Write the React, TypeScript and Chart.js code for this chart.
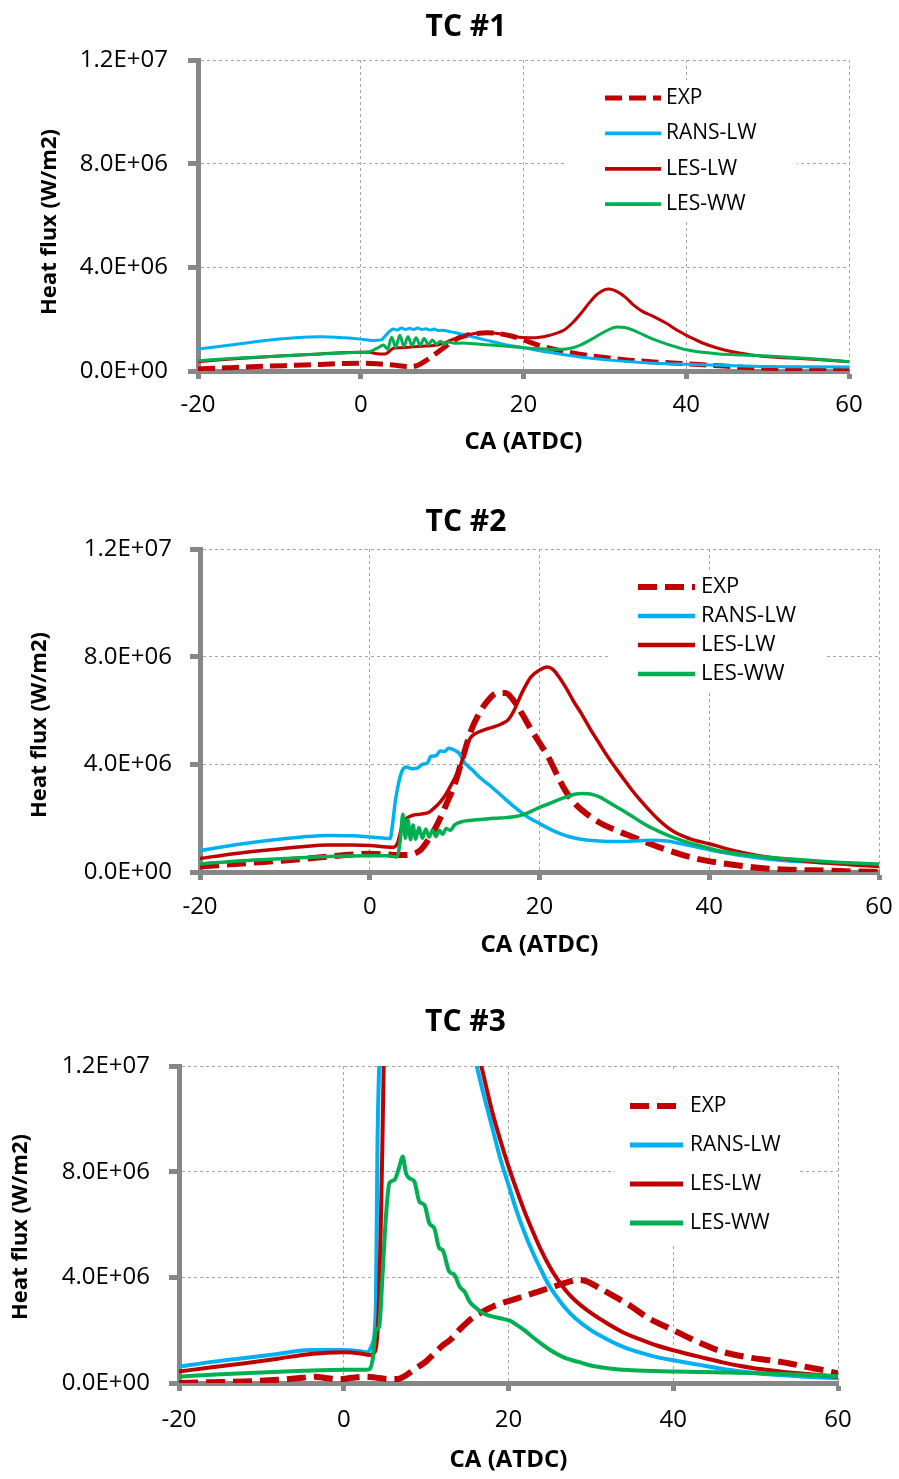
import { useEffect, useRef } from 'react';
import { Chart, registerables } from 'chart.js';

Chart.register(...registerables);

const FAMILY = '"Open Sans", "DejaVu Sans", sans-serif';
const RED = '#C00000';
const BLUE = '#00B0F0';
const GREEN = '#00B050';
const GRID = '#A6A6A6';
const AXIS = '#878787';

Chart.defaults.font.family = FAMILY;
Chart.defaults.color = '#000';

// Shared labels and axis ticks
const SERIES_NAMES = ['EXP', 'RANS-LW', 'LES-LW', 'LES-WW'];
const CA_TICKS = [-20, 0, 20, 40, 60];
const FLUX_TICKS = [0, 4e6, 8e6, 1.2e7];
const X_TITLE = 'CA (ATDC)';
const Y_TITLE = 'Heat flux (W/m2)';

// ---- TC #1 (crank angle in deg ATDC, heat flux in MW/m2) ----
const tc1ExpCA = [-20, -16, -12, -8, -5, -2, 0, 2, 4, 6, 7, 8, 9, 10, 11, 12, 13, 14, 15.5, 17, 18.5, 20, 22, 24, 26, 28, 30, 33, 36, 40, 44, 48, 52, 56, 60];
const tc1ExpQ = [0.08, 0.13, 0.18, 0.22, 0.25, 0.29, 0.3, 0.28, 0.23, 0.17, 0.22, 0.4, 0.62, 0.85, 1.08, 1.27, 1.38, 1.44, 1.48, 1.44, 1.35, 1.2, 0.98, 0.82, 0.7, 0.6, 0.52, 0.42, 0.35, 0.28, 0.2, 0.13, 0.09, 0.06, 0.04];

const tc1RansCA = [-20, -16, -12, -8, -5, -2, 0, 1.5, 2.5, 3, 3.5, 4, 4.5, 5, 5.5, 6, 6.5, 7, 7.5, 8, 8.5, 9, 9.5, 10, 11, 12, 13, 14, 15, 16, 18, 20, 22, 25, 28, 31, 34, 37, 40, 45, 50, 55, 60];
const tc1RansQ = [0.85, 1.0, 1.17, 1.28, 1.32, 1.28, 1.23, 1.18, 1.2, 1.35, 1.52, 1.62, 1.58, 1.66, 1.6, 1.65, 1.6, 1.66, 1.6, 1.63, 1.58, 1.62, 1.56, 1.57, 1.52, 1.45, 1.38, 1.3, 1.22, 1.15, 1.0, 0.9, 0.78, 0.63, 0.5, 0.41, 0.34, 0.29, 0.26, 0.21, 0.17, 0.16, 0.15];

const tc1LesLwCA = [-20, -15, -10, -5, 0, 1, 2, 3, 3.5, 4, 5, 6, 7, 8, 9, 10, 11, 12, 13, 14, 15, 16, 17, 18, 19, 20, 21, 22, 23, 24, 25, 26, 27, 28, 29, 30, 30.5, 31.5, 32.5, 33.5, 34.5, 36, 37.5, 39, 40.5, 42, 44, 46, 48, 51, 54, 57, 60];
const tc1LesLwQ = [0.36, 0.48, 0.58, 0.66, 0.72, 0.72, 0.67, 0.66, 0.75, 0.88, 0.9, 0.92, 0.95, 0.96, 0.98, 1.05, 1.18, 1.3, 1.38, 1.45, 1.48, 1.47, 1.44, 1.38, 1.32, 1.29, 1.28, 1.3, 1.36, 1.45, 1.58, 1.85, 2.2, 2.6, 2.95, 3.14, 3.16, 3.06, 2.85, 2.55, 2.32, 2.1, 1.85, 1.55, 1.3, 1.08, 0.87, 0.72, 0.62, 0.53, 0.48, 0.42, 0.36];

const tc1LesWwCA = [-20, -15, -10, -5, 0, 1, 2, 2.8, 3.3, 3.8, 4.3, 4.8, 5.3, 5.8, 6.3, 6.8, 7.3, 7.8, 8.3, 8.8, 9.3, 9.8, 10.3, 10.8, 11.5, 12.5, 14, 16, 18, 20, 22, 24, 25.5, 27, 28.5, 30, 31.5, 32.5, 34, 36, 38, 40, 42, 44, 47, 50, 55, 60];
const tc1LesWwQ = [0.4, 0.5, 0.58, 0.66, 0.72, 0.74, 0.88, 1.0, 0.85, 1.3, 0.92, 1.38, 0.95, 1.32, 0.98, 1.28, 1.0, 1.25, 1.02, 1.2, 1.03, 1.15, 1.04, 1.12, 1.07, 1.08, 1.05, 1.0, 0.95, 0.9, 0.86, 0.84, 0.86, 1.0, 1.25, 1.52, 1.7, 1.68, 1.5, 1.22, 1.0, 0.82, 0.72, 0.66, 0.62, 0.58, 0.48, 0.36];

// ---- TC #2 ----
const tc2ExpCA = [-20, -15, -10, -5, -2, 0, 2, 4, 5, 6, 7, 8, 9, 10, 11, 12, 13, 14, 15, 16, 17, 18, 19, 20, 21, 22, 23, 24, 25, 27, 29, 31, 33, 35, 37, 39, 41, 44, 47, 50, 54, 57, 60];
const tc2ExpQ = [0.2, 0.32, 0.43, 0.57, 0.65, 0.68, 0.65, 0.63, 0.66, 0.82, 1.25, 1.8, 2.5, 3.25, 4.3, 5.3, 5.95, 6.4, 6.65, 6.65, 6.35, 5.85, 5.3, 4.8, 4.3, 3.65, 3.05, 2.6, 2.3, 1.85, 1.55, 1.3, 1.05, 0.82, 0.62, 0.46, 0.35, 0.22, 0.12, 0.08, 0.05, 0.02, 0.0];

const tc2RansCA = [-20, -16, -12, -8, -5, -2, 0, 1.5, 2.4, 2.7, 3.0, 3.4, 3.8, 4.3, 5, 5.6, 6.2, 6.8, 7.2, 7.8, 8.3, 8.8, 9.3, 9.8, 10.5, 11.2, 12, 13, 14, 15, 16, 17, 18, 19, 20, 21, 22, 23, 24, 25.5, 27, 29, 31, 33, 35, 37, 40, 44, 47, 50, 54, 57, 60];
const tc2RansQ = [0.79, 1.0, 1.17, 1.3, 1.36, 1.35, 1.3, 1.26, 1.24, 1.8, 2.6, 3.3, 3.75, 3.9, 3.84, 3.86, 4.0, 4.05, 4.3, 4.32, 4.5, 4.48, 4.6, 4.55, 4.42, 4.05, 3.82, 3.5, 3.25, 2.98, 2.7, 2.43, 2.18, 1.97, 1.8, 1.63, 1.48, 1.36, 1.27, 1.19, 1.15, 1.13, 1.15, 1.18, 1.15, 1.03, 0.83, 0.6, 0.47, 0.4, 0.33, 0.29, 0.26];

const tc2LesLwCA = [-20, -16, -12, -8, -5, -2, 0, 2, 2.8, 3.3, 3.8, 4.3, 5, 6, 7, 7.5, 8.3, 9, 9.7, 10.5, 11.2, 11.8, 12.5, 13.5, 14.5, 15.5, 16.3, 17, 18, 19, 20, 20.9, 21.6, 22.4, 23.2, 24, 25, 26, 27, 28, 29, 30, 31, 32, 33, 34, 35, 36, 37, 38, 40, 42, 44, 47, 50, 54, 57, 60];
const tc2LesLwQ = [0.5, 0.68, 0.82, 0.94, 1.0, 1.0, 0.98, 0.93, 0.92, 1.1, 1.7, 1.98, 2.1, 2.15, 2.22, 2.35, 2.6, 2.9, 3.3, 3.8, 4.45, 4.95, 5.15, 5.28, 5.38, 5.5, 5.65, 6.0, 6.7, 7.25, 7.5, 7.62, 7.52, 7.2, 6.8, 6.35, 5.85, 5.3, 4.8, 4.3, 3.85, 3.42, 3.0, 2.62, 2.27, 1.95, 1.68, 1.47, 1.32, 1.2, 1.05, 0.87, 0.72, 0.55, 0.45, 0.33, 0.26, 0.2];

const tc2LesWwCA = [-20, -15, -10, -5, 0, 2, 3.2, 3.6, 3.9, 4.2, 4.5, 4.8, 5.1, 5.4, 5.8, 6.2, 6.6, 7.0, 7.4, 7.8, 8.2, 8.6, 9, 9.5, 10, 11, 12, 13, 14, 15, 16, 17, 18, 19, 20, 21, 22, 23, 24, 25, 26, 27, 28, 29, 30, 31, 32, 33, 34, 35, 36, 37, 39, 41, 44, 47, 50, 54, 57, 60];
const tc2LesWwQ = [0.3, 0.42, 0.5, 0.58, 0.6, 0.6, 0.56, 1.2, 2.15, 1.25, 1.95, 1.2, 1.75, 1.22, 1.65, 1.25, 1.6, 1.3, 1.55, 1.32, 1.55, 1.4, 1.62, 1.55, 1.75, 1.88, 1.92, 1.95, 1.98, 2.0, 2.02, 2.05, 2.12, 2.25, 2.4, 2.52, 2.65, 2.77, 2.88, 2.92, 2.9, 2.8, 2.62, 2.43, 2.25, 2.05, 1.85, 1.67, 1.52, 1.38, 1.26, 1.15, 0.97, 0.8, 0.65, 0.55, 0.47, 0.38, 0.33, 0.3];

// ---- TC #3 (RANS-LW and LES-LW peak above the 1.2E+07 axis limit) ----
const tc3ExpCA = [-20, -16, -12, -8, -5, -3.5, -2, -0.5, 1, 2.5, 4, 5.5, 6.5, 7.5, 8.5, 10, 11, 12, 13, 14, 15, 16, 17, 18, 19, 20, 22, 24, 26, 27.5, 28.5, 29.5, 31, 33, 35, 37, 39, 41, 43, 46, 49.5, 52, 54, 56, 58, 60];
const tc3ExpQ = [0.0, 0.03, 0.06, 0.12, 0.2, 0.24, 0.18, 0.14, 0.2, 0.24, 0.2, 0.15, 0.15, 0.28, 0.5, 0.82, 1.12, 1.42, 1.65, 2.0, 2.3, 2.55, 2.72, 2.88, 3.0, 3.1, 3.3, 3.5, 3.7, 3.85, 3.9, 3.85, 3.6, 3.25, 2.88, 2.45, 2.15, 1.85, 1.55, 1.18, 0.95, 0.85, 0.75, 0.62, 0.5, 0.37];

const tc3RansCA = [-20, -16, -12, -8, -4, 0, 2, 2.8, 3.5, 3.9, 4.1, 4.3, 4.6, 5.5, 6.5, 8, 10, 12, 14, 16, 17, 18, 19, 20, 21, 22, 23, 24, 25, 26, 27, 28, 30, 32, 34, 36, 38, 40, 42, 44, 46, 48, 50, 53, 56, 60];
const tc3RansQ = [0.62, 0.8, 0.95, 1.1, 1.25, 1.25, 1.2, 1.16, 1.5, 2.9, 9.2, 12.0, 14.5, 18.0, 20.5, 22.0, 21.0, 18.5, 15.3, 12.2, 10.9, 9.7, 8.5, 7.5, 6.5, 5.65, 4.9, 4.25, 3.65, 3.2, 2.8, 2.48, 2.0, 1.65, 1.36, 1.15, 0.98, 0.86, 0.75, 0.64, 0.53, 0.45, 0.37, 0.3, 0.24, 0.18];

const tc3LesLwCA = [-20, -16, -12, -8, -4, 0, 2, 3.1, 3.8, 4.2, 4.5, 4.7, 4.85, 5.2, 6, 8, 10, 12, 14, 16, 17, 18, 19, 20, 21, 22, 23, 24, 25, 26, 27, 28, 30, 32, 34, 36, 38, 40, 42, 44, 46, 48, 50, 53, 56, 60];
const tc3LesLwQ = [0.43, 0.6, 0.75, 0.92, 1.1, 1.16, 1.12, 1.06, 1.2, 2.5, 6.0, 9.2, 12.0, 14.5, 18.0, 22.5, 22.5, 20.0, 16.5, 13.0, 11.6, 10.3, 9.2, 8.2, 7.3, 6.45, 5.7, 5.0, 4.4, 3.9, 3.48, 3.15, 2.65, 2.25, 1.9, 1.65, 1.42, 1.24, 1.08, 0.93, 0.78, 0.65, 0.55, 0.44, 0.35, 0.24];

const tc3LesWwCA = [-20, -15, -10, -5, 0, 2.7, 3.1, 3.5, 3.9, 4.3, 4.72, 5.1, 5.53, 6.14, 6.75, 7.15, 7.56, 7.97, 8.58, 9.19, 9.8, 10.4, 11.0, 11.6, 12.0, 12.8, 13.45, 14.06, 14.67, 15.28, 16.1, 16.9, 18, 19, 20.2, 21, 22, 23, 24, 25, 26, 27, 28.5, 30, 32, 35, 40, 45, 50, 55, 60];
const tc3LesWwQ = [0.24, 0.33, 0.4, 0.46, 0.5, 0.5, 0.52, 0.87, 2.0, 2.13, 4.15, 6.2, 7.56, 7.68, 8.19, 8.57, 7.94, 7.75, 7.62, 6.86, 6.74, 6.04, 5.85, 5.1, 5.03, 4.22, 4.09, 3.65, 3.46, 3.08, 2.83, 2.64, 2.52, 2.45, 2.35, 2.2, 1.98, 1.72, 1.48, 1.26, 1.08, 0.93, 0.8, 0.66, 0.56, 0.48, 0.44, 0.41, 0.38, 0.32, 0.26];

const SERIES_COLORS = [RED, BLUE, RED, GREEN];

// "1.2E+07" style labels
const sci = (v: number) => {
  const [m, e] = v.toExponential(1).split('e');
  const n = parseInt(e, 10);
  return `${m}E${n < 0 ? '-' : '+'}${String(Math.abs(n)).padStart(2, '0')}`;
};

// Legend drawn inside the plot area on a white panel
const insetLegend = {
  id: 'insetLegend',
  beforeDatasetsDraw(chart: any, _args: any, o: any) {
    const { ctx } = chart;
    ctx.save();
    ctx.fillStyle = '#ffffff';
    ctx.fillRect(o.box[0], o.box[1], o.box[2], o.box[3]);
    ctx.font = `${o.fontSize}px ${FAMILY}`;
    ctx.textAlign = 'left';
    ctx.textBaseline = 'middle';
    chart.data.datasets.forEach((ds: any, i: number) => {
      const y = o.rowY + i * o.rowGap;
      ctx.beginPath();
      ctx.setLineDash(ds.borderDash || []);
      ctx.lineWidth = ds.borderDash ? ds.borderWidth : ds.borderWidth + 0.8;
      ctx.strokeStyle = ds.borderColor;
      ctx.moveTo(o.lineX1, y);
      ctx.lineTo(o.lineX2, y);
      ctx.stroke();
      ctx.setLineDash([]);
      ctx.fillStyle = '#000';
      ctx.fillText(ds.label, o.textX, y);
    });
    ctx.restore();
  },
};

// Panel heading and rotated y-axis caption
const captions = {
  id: 'captions',
  afterDraw(chart: any, _args: any, o: any) {
    const { ctx } = chart;
    for (const c of o.items) {
      ctx.save();
      ctx.translate(c.x, c.y);
      if (c.rotate) ctx.rotate(-Math.PI / 2);
      ctx.font = `bold ${c.size}px ${FAMILY}`;
      ctx.fillStyle = '#000';
      ctx.textAlign = 'center';
      ctx.textBaseline = 'middle';
      ctx.fillText(c.text, 0, 0);
      ctx.restore();
    }
  },
};

type PanelSpec = {
  title: string;
  top: number;
  height: number;
  pad: { left: number; right: number; top: number; bottom: number };
  titleAt: [number, number];
  yWidth: number;
  xHeight: number;
  xTickPad: number;
  yTickPad: number;
  yCaptionAt: [number, number];
  legend: { box: number[]; lineX1: number; lineX2: number; textX: number; rowY: number; rowGap: number; fontSize: number };
  lineWidth: number;
  expWidth: number;
  expDash: number[];
  series: [number[], number[]][];
};

const TICK_SIZE = 24;

const PANELS: PanelSpec[] = [
  {
    title: 'TC #1',
    top: 0,
    height: 470,
    pad: { left: 0, right: 50, top: 60, bottom: 13.1 },
    titleAt: [466, 27],
    yWidth: 198,
    xHeight: 85.9,
    xTickPad: 12.1,
    yTickPad: 20,
    yCaptionAt: [50, 222],
    legend: { box: [567, 80, 230, 142], lineX1: 605, lineX2: 661, textX: 666, rowY: 98, rowGap: 35.4, fontSize: 21 },
    lineWidth: 3,
    expWidth: 5,
    expDash: [17, 7],
    series: [[tc1ExpCA, tc1ExpQ], [tc1RansCA, tc1RansQ], [tc1LesLwCA, tc1LesLwQ], [tc1LesWwCA, tc1LesWwQ]],
  },
  {
    title: 'TC #2',
    top: 470,
    height: 505,
    pad: { left: 0, right: 20, top: 79, bottom: 15.6 },
    titleAt: [466, 52],
    yWidth: 200,
    xHeight: 87.4,
    xTickPad: 12.6,
    yTickPad: 18,
    yCaptionAt: [40, 255],
    legend: { box: [610, 100, 217, 120], lineX1: 638, lineX2: 695, textX: 701, rowY: 117, rowGap: 29, fontSize: 22 },
    lineWidth: 3.5,
    expWidth: 6,
    expDash: [19, 8],
    series: [[tc2ExpCA, tc2ExpQ], [tc2RansCA, tc2RansQ], [tc2LesLwCA, tc2LesLwQ], [tc2LesWwCA, tc2LesWwQ]],
  },
  {
    title: 'TC #3',
    top: 975,
    height: 504,
    pad: { left: 0, right: 61, top: 91, bottom: 4.6 },
    titleAt: [465.5, 47.5],
    yWidth: 179,
    xHeight: 91.4,
    xTickPad: 14.6,
    yTickPad: 19,
    yCaptionAt: [21, 252],
    legend: { box: [615, 95, 182, 173], lineX1: 630, lineX2: 683, textX: 690, rowY: 131, rowGap: 39, fontSize: 21 },
    lineWidth: 4,
    expWidth: 6,
    expDash: [19, 8],
    series: [[tc3ExpCA, tc3ExpQ], [tc3RansCA, tc3RansQ], [tc3LesLwCA, tc3LesLwQ], [tc3LesWwCA, tc3LesWwQ]],
  },
];

function buildConfig(p: PanelSpec): any {
  const datasets = p.series.map(([ca, q], i) => {
    const isExp = i === 0;
    return {
      label: SERIES_NAMES[i],
      data: ca.map((x, k) => ({ x, y: q[k] * 1e6 })),
      borderColor: SERIES_COLORS[i],
      backgroundColor: SERIES_COLORS[i],
      borderWidth: isExp ? p.expWidth : p.lineWidth,
      borderDash: isExp ? p.expDash : undefined,
      pointRadius: 0,
      fill: false,
      cubicInterpolationMode: 'monotone',
      order: SERIES_NAMES.length - i,
    };
  });

  return {
    type: 'line',
    data: { datasets },
    plugins: [insetLegend, captions],
    options: {
      responsive: false,
      animation: false,
      events: [],
      layout: { padding: p.pad },
      plugins: {
        legend: { display: false },
        tooltip: { enabled: false },
        title: { display: false },
        insetLegend: p.legend,
        captions: {
          items: [
            { text: p.title, x: p.titleAt[0], y: p.titleAt[1], size: 30, rotate: false },
            { text: Y_TITLE, x: p.yCaptionAt[0], y: p.yCaptionAt[1], size: 22, rotate: true },
          ],
        },
      },
      scales: {
        x: {
          type: 'linear',
          min: CA_TICKS[0],
          max: CA_TICKS[CA_TICKS.length - 1],
          afterBuildTicks: (s: any) => {
            s.ticks = CA_TICKS.map((value) => ({ value }));
          },
          afterFit: (s: any) => {
            s.height = p.xHeight;
            s.paddingLeft = 0;
            s.paddingRight = 0;
          },
          ticks: {
            color: '#000',
            font: { size: TICK_SIZE },
            padding: p.xTickPad,
            maxRotation: 0,
            callback: (v: number) => String(v),
          },
          grid: {
            color: GRID,
            lineWidth: 1,
            drawTicks: true,
            tickLength: 8,
            tickColor: AXIS,
            tickWidth: 5,
            tickBorderDash: [],
          },
          border: { display: true, color: AXIS, width: 5, dash: [3, 3] },
          title: {
            display: true,
            text: X_TITLE,
            color: '#000',
            font: { size: 24, weight: 'bold' },
            padding: { top: 0, bottom: 0 },
          },
        },
        y: {
          type: 'linear',
          min: FLUX_TICKS[0],
          max: FLUX_TICKS[FLUX_TICKS.length - 1],
          afterBuildTicks: (s: any) => {
            s.ticks = FLUX_TICKS.map((value) => ({ value }));
          },
          afterFit: (s: any) => {
            s.width = p.yWidth;
            s.paddingTop = 0;
            s.paddingBottom = 0;
          },
          ticks: {
            color: '#000',
            font: { size: TICK_SIZE },
            padding: p.yTickPad,
            callback: (v: number) => sci(v),
          },
          grid: {
            color: GRID,
            lineWidth: 1,
            drawTicks: true,
            tickLength: 10,
            tickColor: AXIS,
            tickWidth: 5,
            tickBorderDash: [],
          },
          border: { display: true, color: AXIS, width: 5, dash: [3, 3] },
          title: { display: false },
        },
      },
    },
  };
}

function Panel({ spec }: { spec: PanelSpec }) {
  const ref = useRef<HTMLCanvasElement>(null);
  useEffect(() => {
    if (!ref.current) return;
    const chart = new Chart(ref.current, buildConfig(spec));
    return () => chart.destroy();
  }, [spec]);
  return (
    <canvas
      ref={ref}
      width={899}
      height={spec.height}
      style={{ position: 'absolute', left: 0, top: spec.top, width: 899, height: spec.height, display: 'block' }}
    />
  );
}

export default function App() {
  return (
    <div style={{ position: 'absolute', left: 0, top: 0, width: 899, height: 1479, background: '#ffffff', overflow: 'hidden' }}>
      {PANELS.map((p) => (
        <Panel key={p.title} spec={p} />
      ))}
    </div>
  );
}
